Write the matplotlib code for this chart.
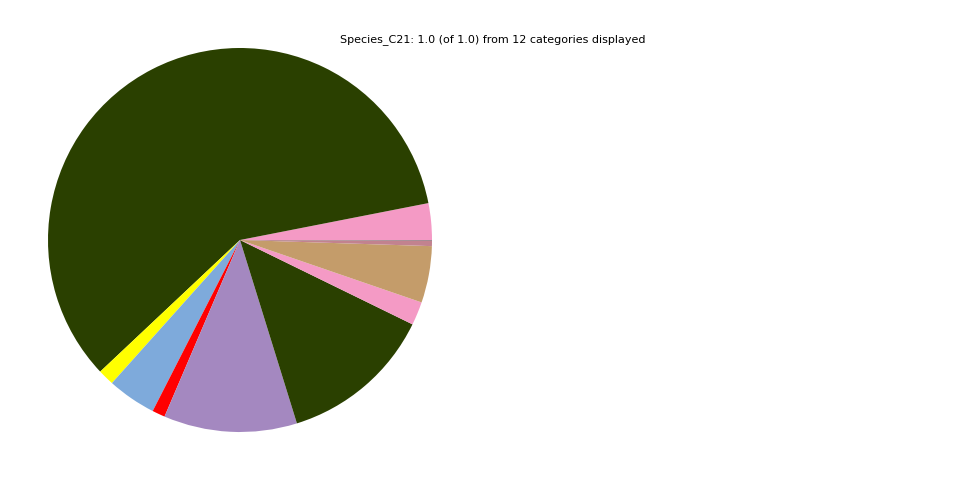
import matplotlib

matplotlib.use("Agg")
import matplotlib.pyplot as plt

# slice fractions, in drawing order (counter-clockwise from 3 o'clock)
categories = ["C01", "C02", "C03", "C04", "C05", "C06",
              "C07", "C08", "C09", "C10", "C11", "C12"]
fractions = [0.0308, 0.5894, 0.0136, 0.0411, 0.0108, 0.1122,
             0.1297, 0.0197, 0.0476, 0.0043, 0.0004, 0.0004]
colors = ["#f49ac5", "#2a4000", "#ffff00", "#7eaadb", "#ff0000", "#a488c0",
          "#2a4000", "#f49ac5", "#c49c6a", "#c2828f", "#8a6f6f", "#7a5a6a"]
title = "Species_C21: 1.0 (of 1.0) from 12 categories displayed"

fig = plt.figure(figsize=(9.6, 4.8), dpi=100)
ax = fig.add_axes([48 / 960, 48 / 480, 384 / 960, 384 / 480])
ax.pie(fractions, colors=colors, startangle=0, counterclock=True,
       radius=1.0, normalize=True)
ax.set_xlim(-1, 1)
ax.set_ylim(-1, 1)
ax.set_aspect("equal")
ax.axis("off")

fig.text(493 / 960, 1 - 40 / 480, title, ha="center", va="center", fontsize=8)

fig.savefig("out.png", dpi=100)
